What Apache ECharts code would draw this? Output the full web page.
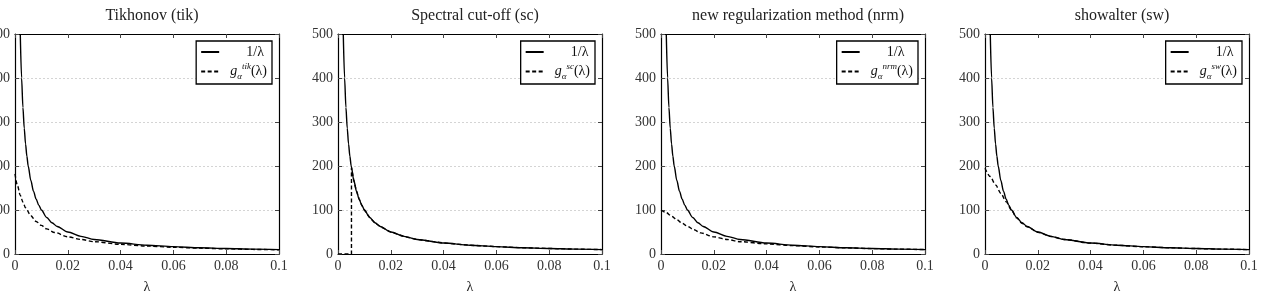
<!DOCTYPE html>
<html>
<head>
<meta charset="utf-8">
<script src="https://cdn.jsdelivr.net/npm/echarts@6/dist/echarts.min.js"></script>
<style>
  html, body { margin: 0; padding: 0; background: #fff; }
  #chart { width: 1261px; height: 294px; }
</style>
</head>
<body>
<div id="chart"></div>
<script>
// panel titles and legend keys
var titles = ['Tikhonov (tik)', 'Spectral cut-off (sc)', 'new regularization method (nrm)', 'showalter (sw)'];
var methods = ['tik', 'sc', 'nrm', 'sw'];

// axis ticks
var xTicks = [0, 0.02, 0.04, 0.06, 0.08, 0.1];
var yTicks = [0, 100, 200, 300, 400, 500];

// 1/lambda curve (same in every panel)
var lamInv = [0.002, 0.0025, 0.003, 0.0035, 0.004, 0.0045, 0.005, 0.006, 0.007, 0.008, 0.009, 0.01, 0.012, 0.014, 0.016, 0.02, 0.025, 0.03, 0.04, 0.05, 0.06, 0.07, 0.08, 0.09, 0.1];
var inv    = [500, 400, 333, 286, 250, 222, 200, 167, 143, 125, 111, 100, 83, 71, 62.5, 50, 40, 33, 25, 20, 16.7, 14.3, 12.5, 11.1, 10];

// filter functions g_alpha
var lamTik = [0, 0.001, 0.002, 0.003, 0.004, 0.006, 0.008, 0.01, 0.012, 0.015, 0.02, 0.025, 0.03, 0.04, 0.05, 0.06, 0.07, 0.08, 0.09, 0.1];
var tik    = [182, 154, 133, 118, 105, 87, 74, 65, 57, 49, 39, 33, 28, 22, 18, 15.3, 13.3, 11.7, 10.4, 9.5];

var lamSc = [0, 0.0051, 0.0051, 0.006, 0.007, 0.008, 0.009, 0.01, 0.012, 0.014, 0.016, 0.02, 0.025, 0.03, 0.04, 0.05, 0.06, 0.07, 0.08, 0.09, 0.1];
var sc    = [0, 0, 196, 167, 143, 125, 111, 100, 83, 71, 62.5, 50, 40, 33, 25, 20, 16.7, 14.3, 12.5, 11.1, 10];

var lamNrm = [0, 0.002, 0.004, 0.006, 0.008, 0.01, 0.0125, 0.015, 0.02, 0.025, 0.03, 0.04, 0.05, 0.06, 0.07, 0.08, 0.09, 0.1];
var nrm    = [100, 94, 86, 78, 70, 63, 55, 48, 39, 33, 28, 23, 19, 16, 14, 12.3, 11, 10];

var lamSw = [0, 0.002, 0.004, 0.006, 0.008, 0.01, 0.012, 0.014, 0.016, 0.02, 0.025, 0.03, 0.04, 0.05, 0.06, 0.07, 0.08, 0.09, 0.1];
var sw    = [195, 176, 157, 138, 119, 100, 82, 70, 62, 49.5, 39.8, 33, 24.8, 19.8, 16.5, 14.2, 12.4, 11, 9.9];

var gLam = [lamTik, lamSc, lamNrm, lamSw];
var gVal = [tik, sc, nrm, sw];

function pairs(xs, ys) {
    var res = [];
    for (var i = 0; i < xs.length; i++) res.push([xs[i], ys[i]]);
    return res;
}

var chart = echarts.init(document.getElementById('chart'));

var FONT = 'Liberation Serif';
var gridLeft = [15, 338, 661, 985];
var gridW = 264, gridTop = 34, gridH = 220;

var grid = [], xAxis = [], yAxis = [], series = [], title = [], legend = [];

var rich = {
    one: { fontFamily: FONT, fontSize: 14, color: '#111', width: 50, align: 'center', padding: [0, 0, 0, 6] },
    g: { fontFamily: FONT, fontSize: 14, fontStyle: 'italic', color: '#111', padding: [0, 0, 0, 6] },
    sub: { fontFamily: FONT, fontSize: 9, fontStyle: 'italic', color: '#111', verticalAlign: 'bottom', lineHeight: 19 },
    sup: { fontFamily: FONT, fontSize: 9, fontStyle: 'italic', color: '#111', verticalAlign: 'top', lineHeight: 19 },
    par: { fontFamily: FONT, fontSize: 14, color: '#111' }
};

for (var p = 0; p < 4; p++) {
    grid.push({ left: gridLeft[p], top: gridTop, width: gridW, height: gridH, outerBoundsMode: 'none', containLabel: false });

    title.push({
        text: titles[p],
        left: gridLeft[p] + gridW / 2,
        textAlign: 'center',
        top: 3,
        textStyle: { fontFamily: FONT, fontSize: 16, fontWeight: 'normal', color: '#222' }
    });

    // bottom x axis with labels
    xAxis.push({
        gridIndex: p, type: 'value', min: 0, max: 0.1, interval: 0.02,
        name: 'λ', nameLocation: 'middle', nameGap: 26,
        nameTextStyle: { fontFamily: FONT, fontSize: 14, color: '#222' },
        axisLine: { lineStyle: { color: '#000', width: 1.2 } },
        axisTick: { inside: true, length: 4, lineStyle: { color: '#444' } },
        axisLabel: {
            fontFamily: FONT, fontSize: 14, color: '#333', margin: 5,
            formatter: function (v) { return String(parseFloat(v.toFixed(2))); }
        },
        splitLine: { show: false }
    });
    // top x axis (frame)
    xAxis.push({
        gridIndex: p, type: 'value', position: 'top', min: 0, max: 0.1, interval: 0.02,
        axisLine: { onZero: false, lineStyle: { color: '#000', width: 1.2 } },
        axisTick: { inside: true, length: 4, lineStyle: { color: '#444' } },
        axisLabel: { show: false },
        splitLine: { show: false }
    });
    // left y axis with labels
    yAxis.push({
        gridIndex: p, type: 'value', min: 0, max: 500, interval: 100,
        axisLine: { show: true, onZero: false, lineStyle: { color: '#000', width: 1.2 } },
        axisTick: { show: true, inside: true, length: 4, lineStyle: { color: '#444' } },
        axisLabel: { fontFamily: FONT, fontSize: 14, color: '#333', margin: 5 },
        splitLine: { show: true, lineStyle: { color: '#d4d4d4', type: [2, 2], width: 1 } }
    });
    // right y axis (frame)
    yAxis.push({
        gridIndex: p, type: 'value', position: 'right', min: 0, max: 500, interval: 100,
        axisLine: { show: true, onZero: false, lineStyle: { color: '#000', width: 1.2 } },
        axisTick: { show: true, inside: true, length: 4, lineStyle: { color: '#444' } },
        axisLabel: { show: false },
        splitLine: { show: false }
    });

    var gName = 'g_' + methods[p];
    series.push({
        name: '1/λ', type: 'line', xAxisIndex: 2 * p, yAxisIndex: 2 * p,
        data: pairs(lamInv, inv), showSymbol: false, symbol: 'none',
        smooth: 0.3, smoothMonotone: 'x',
        lineStyle: { color: '#000', width: 1.4 }, itemStyle: { color: '#000' },
        z: 3
    });
    series.push({
        name: gName, type: 'line', xAxisIndex: 2 * p, yAxisIndex: 2 * p,
        data: pairs(gLam[p], gVal[p]), showSymbol: false, symbol: 'none',
        smooth: p === 1 ? false : 0.3, smoothMonotone: 'x',
        lineStyle: { color: '#000', width: 1.4, type: [4, 2.5] }, itemStyle: { color: '#000' },
        z: 4
    });

    legend.push({
        data: ['1/λ', gName],
        orient: 'vertical',
        right: 1261 - (gridLeft[p] + gridW - 7),
        top: 41,
        backgroundColor: '#fff',
        borderColor: '#000',
        borderWidth: 1.3,
        borderRadius: 0,
        padding: [4, 5, 3, 4],
        itemGap: 3,
        itemWidth: 18,
        itemHeight: 14,
        selectedMode: false,
        itemStyle: { color: 'rgba(0,0,0,0)', borderWidth: 0, opacity: 0 },
        textStyle: { fontFamily: FONT, fontSize: 14, color: '#111', rich: rich },
        formatter: function (name) {
            if (name === '1/λ') return '{one|1/λ}';
            return '{g|g}{sub|α}{sup|' + name.slice(2) + '}{par|(λ)}';
        }
    });
}

var option = {
    animation: false,
    title: title,
    legend: legend,
    grid: grid,
    xAxis: xAxis,
    yAxis: yAxis,
    series: series
};

chart.setOption(option);
window.addEventListener('resize', function () {
    chart.resize();
});
</script>
</body>
</html>
